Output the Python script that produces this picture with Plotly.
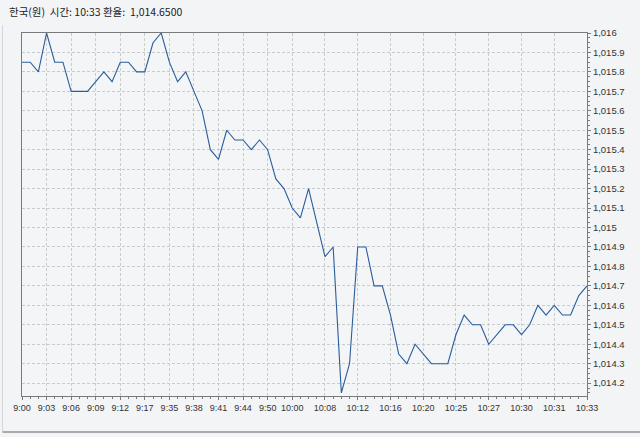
import plotly.graph_objects as go

# ---- data ----
rates = [1015.85, 1015.85, 1015.8, 1016.0, 1015.85, 1015.85, 1015.7, 1015.7, 1015.7, 1015.75,
         1015.8, 1015.75, 1015.85, 1015.85, 1015.8, 1015.8, 1015.95, 1016.0, 1015.85, 1015.75,
         1015.8, 1015.7, 1015.6, 1015.4, 1015.35, 1015.5, 1015.45, 1015.45, 1015.4, 1015.45,
         1015.4, 1015.25, 1015.2, 1015.1, 1015.05, 1015.2, 1015.02, 1014.85, 1014.9, 1014.15,
         1014.3, 1014.9, 1014.9, 1014.7, 1014.7, 1014.55, 1014.35, 1014.3, 1014.4, 1014.35,
         1014.3, 1014.3, 1014.3, 1014.45, 1014.55, 1014.5, 1014.5, 1014.4, 1014.45, 1014.5,
         1014.5, 1014.45, 1014.5, 1014.6, 1014.55, 1014.6, 1014.55, 1014.55, 1014.65, 1014.7]
point_index = list(range(len(rates)))
tick_index = [0, 3, 6, 9, 12, 15, 18, 21, 24, 27, 30, 33, 37, 41, 45, 49, 53, 57, 61, 65, 69]
tick_labels = ["9:00", "9:03", "9:06", "9:09", "9:12", "9:17", "9:35", "9:38", "9:41", "9:44",
               "9:50", "10:00", "10:08", "10:12", "10:16", "10:20", "10:25", "10:27", "10:30",
               "10:31", "10:33"]
title_text = "한국(원)  시간: 10:33 환율:  1,014.6500"

fig = go.Figure()
fig.add_trace(go.Scatter(x=point_index, y=rates, mode="lines",
                         line=dict(color="#2a5d9c", width=1.1), hoverinfo="skip"))

grid = "#c9cbce"
axis_col = "#7a7a7a"
tick_font = dict(family="Liberation Sans, Arial, sans-serif", size=9.5, color="#333333")

fig.update_layout(
    width=640, height=437,
    margin=dict(l=22, r=53, t=33, b=41),
    paper_bgcolor="#f3f4f6",
    plot_bgcolor="#f4f5f7",
    showlegend=False,
    xaxis=dict(
        range=[0, len(rates) - 1],
        tickmode="array", tickvals=tick_index, ticktext=tick_labels,
        tickfont=dict(family="Liberation Sans, Arial, sans-serif", size=9, color="#333333"),
        showgrid=True, gridcolor=grid, griddash="3px,2px", gridwidth=1,
        showline=True, linecolor=axis_col, linewidth=1, mirror=True,
        ticks="outside", ticklen=3, tickcolor=axis_col,
        minor=dict(tickmode="linear", tick0=0, dtick=1, ticks="outside", ticklen=2,
                   tickcolor=axis_col, showgrid=False),
        zeroline=False, fixedrange=True, automargin=False,
    ),
    yaxis=dict(
        side="right",
        range=[1014.134, 1016.0],
        tickmode="linear", tick0=1014.2, dtick=0.1,
        tickformat=",.1~f",
        tickfont=tick_font,
        showgrid=True, gridcolor=grid, griddash="3px,2px", gridwidth=1,
        showline=True, linecolor=axis_col, linewidth=1, mirror=True,
        ticks="outside", ticklen=3, tickcolor=axis_col,
        minor=dict(tickmode="linear", tick0=1014.2, dtick=0.025, ticks="outside", ticklen=2,
                   tickcolor=axis_col, showgrid=False),
        zeroline=False, fixedrange=True, automargin=False,
    ),
    annotations=[dict(
        text=title_text, xref="paper", yref="paper",
        x=-15 / 565, y=1 + 21 / 363, xanchor="left", yanchor="middle",
        showarrow=False,
        font=dict(family="Noto Sans CJK KR, sans-serif", size=10.5, color="#222222"),
    )],
    shapes=[
        dict(type="line", xref="paper", yref="paper",
             x0=-19.5 / 565, x1=-19.5 / 565, y0=1 + 8 / 363, y1=-36 / 363,
             line=dict(color="#d4d6d9", width=1)),
        dict(type="line", xref="paper", yref="paper",
             x0=-19.5 / 565, x1=1 + 53 / 565, y0=-36 / 363, y1=-36 / 363,
             line=dict(color="#a9abae", width=2)),
    ],
)

fig.write_html("out.html", config={"displayModeBar": False},
               post_script="document.body.style.margin='0';document.body.style.overflow='hidden';")
